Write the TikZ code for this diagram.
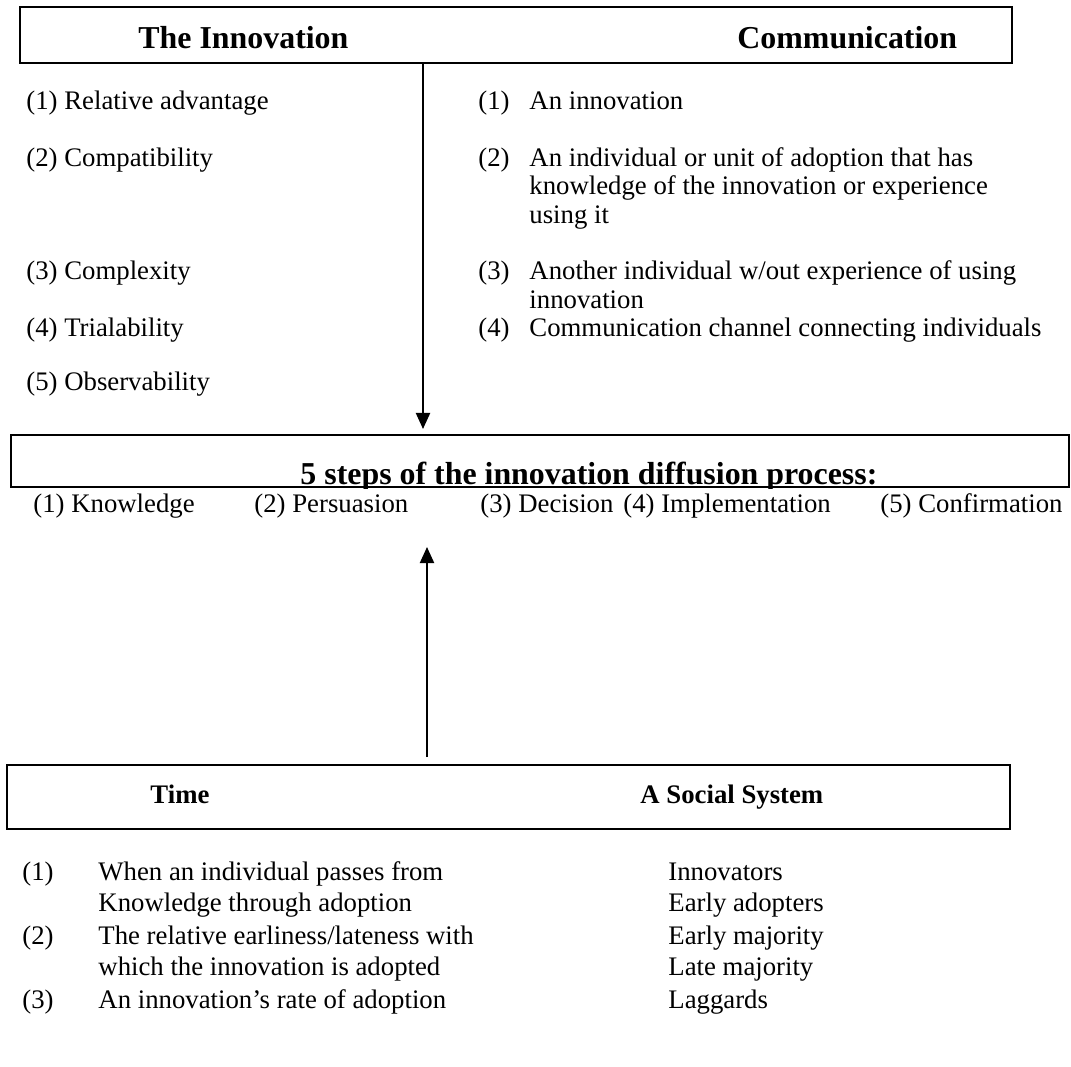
\documentclass[tikz,border=0pt]{standalone}
\usepackage{fontspec}
\setmainfont{Liberation Serif}
\usetikzlibrary{arrows.meta,fit}
\tikzset{
  box/.style={draw, line width=1pt, inner sep=0pt},
  head/.style={font=\fontsize{14.3}{17}\selectfont\bfseries, anchor=base west, inner sep=0pt},
  subhead/.style={font=\fontsize{12}{14}\selectfont\bfseries, anchor=base west, inner sep=0pt},
  item/.style={font=\fontsize{12}{14}\selectfont, anchor=base west, inner sep=0pt},
  flow/.style={line width=0.9pt, -{Triangle[length=7.2pt,width=6.3pt]}}
}
\begin{document}
\begin{tikzpicture}[x=0.01576cm,y=-0.01576cm]
  \useasboundingbox (0,0) rectangle (1071,1067);
  % top box
  \coordinate (topNW) at (20,7);
  \coordinate (topSE) at (1012,63);
  \node[box, fit=(topNW)(topSE)] (topbox) {};
  \node[head] (innov) at (138,49) {The Innovation};
  \node[head] (comm) at (737,49) {Communication};
  % the innovation
  \node[item] (in1) at (26,110) {(1) Relative advantage};
  \node[item] (in2) at (26,167) {(2) Compatibility};
  \node[item] (in3) at (26,280) {(3) Complexity};
  \node[item] (in4) at (26,336) {(4) Trialability};
  \node[item] (in5) at (26,390) {(5) Observability};
  % communication
  \node[item] (cn1) at (478,110) {(1)};
  \node[item] (ct1) at (529,110) {An innovation};
  \node[item] (cn2) at (478,167) {(2)};
  \node[item] (ct2) at (529,167) {An individual or unit of adoption that has};
  \node[item] (ct2b) at (529,195) {knowledge of the innovation or experience};
  \node[item] (ct2c) at (529,223) {using it};
  \node[item] (cn3) at (478,280) {(3)};
  \node[item] (ct3) at (529,280) {Another individual w/out experience of using};
  \node[item] (ct3b) at (529,308) {innovation};
  \node[item] (cn4) at (478,336) {(4)};
  \node[item] (ct4) at (529,336) {Communication channel connecting individuals};
  % steps box
  \coordinate (midNW) at (11,435);
  \coordinate (midSE) at (1069,487);
  \node[box, fit=(midNW)(midSE)] (midbox) {};
  \begin{scope}
    \clip (midbox.north west) rectangle (midbox.south east);
    \node[head] (steps) at (300,484) {5 steps of the innovation diffusion process:};
  \end{scope}
  \node[item] (st1) at (33,512) {(1) Knowledge};
  \node[item] (st2) at (254,512) {(2) Persuasion};
  \node[item] (st3) at (480,512) {(3) Decision};
  \node[item] (st4) at (623,512) {(4) Implementation};
  \node[item] (st5) at (880,512) {(5) Confirmation};
  % bottom box
  \coordinate (botNW) at (7,765);
  \coordinate (botSE) at (1010,829);
  \node[box, fit=(botNW)(botSE)] (botbox) {};
  \node[subhead] (time) at (150,803) {Time};
  \node[subhead] (social) at (640,803) {A Social System};
  % time
  \node[item] (tn1) at (22,880) {(1)};
  \node[item] (tt1) at (98,880) {When an individual passes from};
  \node[item] (tt1b) at (98,911) {Knowledge through adoption};
  \node[item] (tn2) at (22,944) {(2)};
  \node[item] (tt2) at (98,944) {The relative earliness/lateness with};
  \node[item] (tt2b) at (98,975) {which the innovation is adopted};
  \node[item] (tn3) at (22,1008) {(3)};
  \node[item] (tt3) at (98,1008) {An innovation’s rate of adoption};
  % social system
  \node[item] (ss1) at (668,880) {Innovators};
  \node[item] (ss2) at (668,911) {Early adopters};
  \node[item] (ss3) at (668,944) {Early majority};
  \node[item] (ss4) at (668,975) {Late majority};
  \node[item] (ss5) at (668,1008) {Laggards};
  % arrows
  \coordinate (downx) at (423,0);
  \coordinate (downtip) at (423,429);
  \draw[flow] (topbox.south -| downx) -- (downtip);
  \coordinate (upfoot) at (427,757);
  \coordinate (uptip) at (427,547);
  \draw[flow] (upfoot) -- (uptip);
\end{tikzpicture}
\end{document}
